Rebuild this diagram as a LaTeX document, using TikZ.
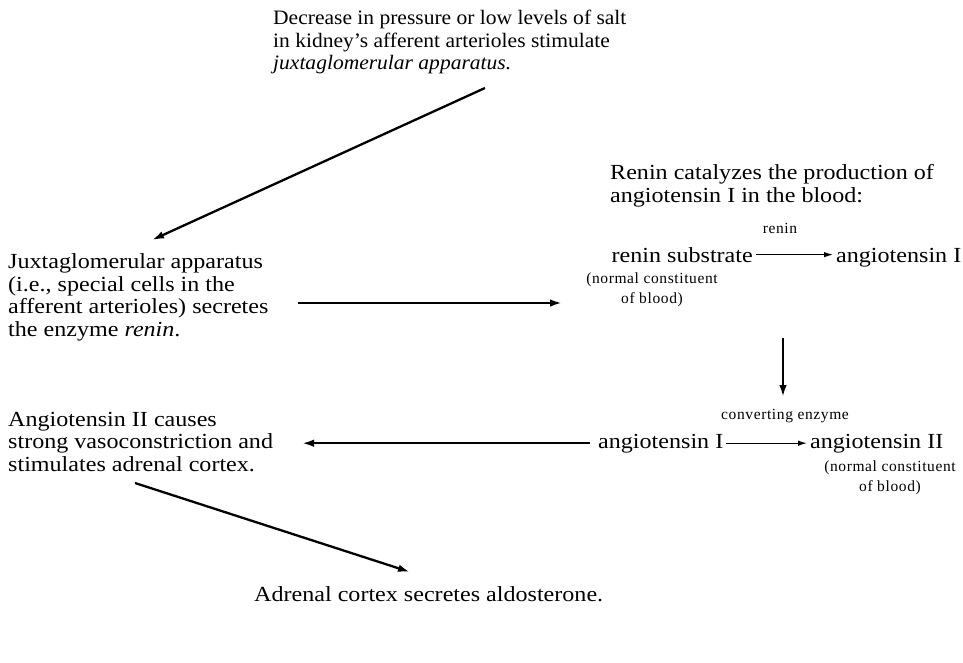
\documentclass[tikz,border=0pt]{standalone}
\usepackage{fontspec}
\setmainfont{Liberation Serif}[FakeStretch=1.12]
\newfontfamily\topfam{Liberation Serif}[FakeStretch=1.05]
\newfontfamily\smallfam{Liberation Serif}[FakeStretch=1.0, LetterSpace=4]
\usetikzlibrary{arrows.meta}
\newcommand{\mainsz}{\fontsize{21.5}{22.5}\selectfont}
\newcommand{\topsz}{\topfam\fontsize{20.5}{22.5}\selectfont}
\newcommand{\smallsz}{\smallfam\fontsize{15.5}{20}\selectfont}
\tikzset{
  txt/.style={inner sep=0pt, font=\mainsz, align=left, anchor=base west},
  rxn/.style={inner sep=0pt, font=\mainsz},
  sm/.style={inner sep=0pt, font=\smallsz, align=center, anchor=base},
  arr/.style={line width=2.3pt, -{Latex[length=12pt,width=7.5pt]}},
  rarr/.style={line width=1.2pt, -{Latex[length=9pt,width=5.5pt]}, shorten <=3pt, shorten >=3pt}
}
\begin{document}
\begin{tikzpicture}[x=1pt,y=-1pt]
\useasboundingbox (0,0) rectangle (963,663);
% texts (base anchor = baseline of the last line)
\node[txt, font=\topsz] (top) at (273,70) {Decrease in pressure or low levels of salt\\in kidney’s afferent arterioles stimulate\\\textit{juxtaglomerular apparatus.}};
\node[txt] (jg) at (8,336) {Juxtaglomerular apparatus\\(i.e., special cells in the\\afferent arterioles) secretes\\the enzyme \textit{renin}.};
\node[txt] (cat) at (610,202) {Renin catalyzes the production of\\angiotensin I in the blood:};
\node[sm] (renlab) at (780,233) {renin};
\node[rxn, anchor=base east] (rs) at (753,262) {renin substrate};
\node[rxn, anchor=base west] (a1) at (836,262) {angiotensin I};
\node[sm] (nc1) at (652,303) {(normal constituent\\of blood)};
\node[sm] (ce) at (785,419) {converting enzyme};
\node[rxn, anchor=base west] (b1) at (598,448) {angiotensin I};
\node[rxn, anchor=base west] (b2) at (810,448) {angiotensin II};
\node[sm] (nc2) at (890,491) {(normal constituent\\of blood)};
\node[txt] (ag) at (8,471) {Angiotensin II causes\\strong vasoconstriction and\\stimulates adrenal cortex.};
\node[txt] (ald) at (254,601) {Adrenal cortex secretes aldosterone.};
% connectors
\draw[arr] ([shift={(212,18)}]top.base west) -- ([shift={(144,-96)}]jg.base west);
\draw[arr] ([shift={(290,-33)}]jg.base west) -- ([shift={(-90,0)}]nc1.base);
\draw[rarr] (rs.east) -- (rs.east -| a1.west);
\draw[arr] ([shift={(-53,76)}]a1.base west) -- ([shift={(-2,-22)}]ce.base);
\draw[rarr] (b1.east) -- (b1.east -| b2.west);
\draw[arr] ([xshift=-8pt]b1.west) -- ([xshift=294pt]ag.base west |- b1.west);
\draw[arr] ([shift={(127,12)}]ag.base west) -- ([shift={(156,-29)}]ald.base west);
\end{tikzpicture}
\end{document}
